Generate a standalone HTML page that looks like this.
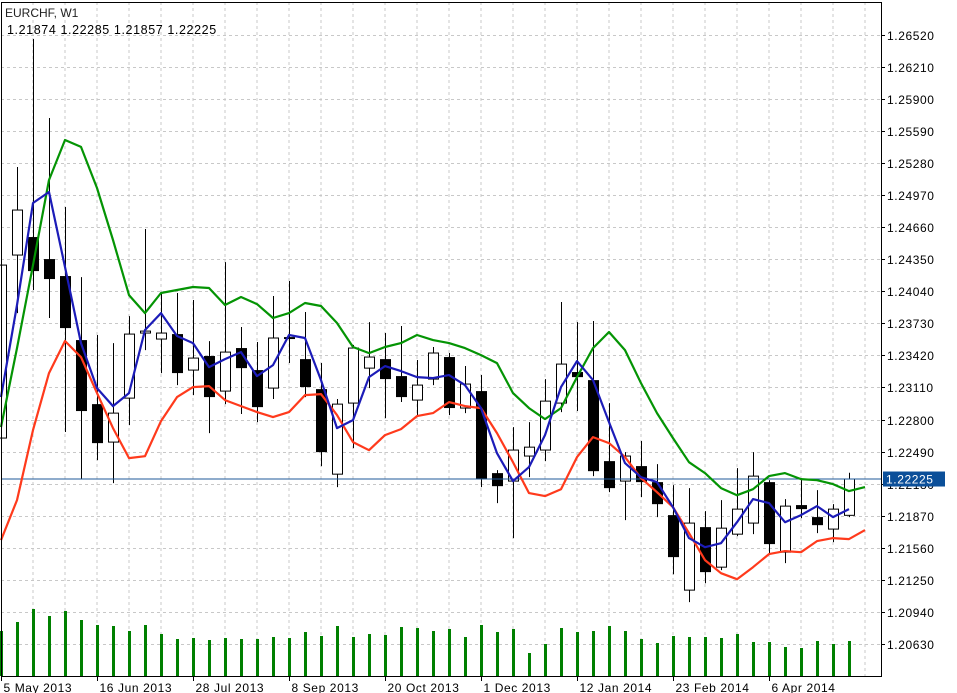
<!DOCTYPE html>
<html><head><meta charset="utf-8"><style>
html,body{margin:0;padding:0;background:#fff;}
svg{display:block;font-family:"Liberation Sans",sans-serif;}
</style></head><body>
<svg id="chart" width="957" height="693" viewBox="0 0 957 693" xmlns="http://www.w3.org/2000/svg">
<rect x="0" y="0" width="957" height="693" fill="#fff"/>
<g id="grid"></g>
<g id="vol"></g>
<g id="candles"></g>
<g id="lines"></g>
<g id="axes"></g>
<text x="5" y="17" font-size="12" fill="#222">EURCHF, W1</text>
<text x="7" y="34" font-size="12.5" fill="#000" letter-spacing="0.6">1.21874 1.22285 1.21857 1.22225</text>
</svg>
<script>
const opens=[1.22621,1.24390,1.24564,1.24351,1.24187,1.23568,1.22949,1.22582,1.23007,1.23636,1.23578,1.23626,1.23278,1.23414,1.23075,1.23491,1.23278,1.23104,1.23597,1.23384,1.23094,1.22272,1.22959,1.23297,1.23384,1.23220,1.22988,1.23191,1.23404,1.22911,1.23075,1.22282,1.22205,1.22447,1.22505,1.22959,1.23259,1.23181,1.22398,1.22205,1.22350,1.22195,1.21876,1.21151,1.21760,1.21373,1.21692,1.21799,1.22195,1.21518,1.21973,1.21857,1.21741,1.21874];
const highs=[1.24361,1.25241,1.26479,1.25715,1.24854,1.24177,1.23617,1.23539,1.23800,1.24642,1.24023,1.24023,1.23955,1.23558,1.24322,1.23694,1.23549,1.23994,1.24139,1.23839,1.23346,1.22998,1.23520,1.23742,1.23636,1.23704,1.23375,1.23501,1.23443,1.23317,1.23230,1.22311,1.22727,1.22775,1.23191,1.23936,1.23742,1.23752,1.22959,1.22485,1.22592,1.22369,1.22166,1.22137,1.21915,1.22021,1.22330,1.22485,1.22214,1.22031,1.22234,1.22118,1.21982,1.22285];
const lows=[1.22553,1.23829,1.24052,1.23781,1.22679,1.22224,1.22408,1.22185,1.22746,1.23471,1.23249,1.23133,1.23036,1.22669,1.22949,1.22853,1.22775,1.22998,1.23346,1.23017,1.22350,1.22147,1.22524,1.23104,1.22814,1.22969,1.22843,1.23133,1.22843,1.22862,1.22147,1.21992,1.21654,1.22243,1.22398,1.22872,1.22882,1.22253,1.22098,1.21828,1.22050,1.21857,1.21305,1.21035,1.21218,1.21344,1.21673,1.21692,1.21508,1.21412,1.21847,1.21702,1.21615,1.21857];
const closes=[1.24293,1.24825,1.24235,1.24158,1.23684,1.22882,1.22572,1.22862,1.23626,1.23655,1.23636,1.23249,1.23394,1.23017,1.23452,1.23297,1.22920,1.23588,1.23578,1.23114,1.22485,1.22949,1.23491,1.23404,1.23191,1.23017,1.23133,1.23443,1.22911,1.23143,1.22224,1.22156,1.22505,1.22533,1.22978,1.23336,1.23210,1.22301,1.22137,1.22447,1.22195,1.21982,1.21470,1.21799,1.21325,1.21750,1.21934,1.22253,1.21596,1.21963,1.21934,1.21779,1.21934,1.22225];
const volumes=[45,54,67,60,65,56,51,50,45,51,42,37,38,36,38,37,37,39,38,44,40,50,39,42,41,49,48,45,47,39,51,44,47,23,32,48,44,45,50,45,37,33,40,39,39,38,42,34,34,29,28,35,32,35];
const greenLine=[1.22727,1.23491,1.24293,1.25115,1.25502,1.25435,1.25038,1.24535,1.24003,1.23829,1.24023,1.24052,1.24081,1.24071,1.23907,1.23984,1.23916,1.23781,1.23829,1.23926,1.23897,1.23733,1.23501,1.23442,1.23501,1.23539,1.23617,1.23568,1.23539,1.23491,1.23423,1.23346,1.23056,1.22911,1.22804,1.22911,1.23210,1.23491,1.23646,1.23471,1.23152,1.22862,1.22621,1.22388,1.22282,1.22137,1.22069,1.22127,1.22253,1.22282,1.22224,1.22214,1.22176,1.22108,1.22147];
const redLine=[1.21634,1.22021,1.22698,1.23249,1.23559,1.23404,1.23056,1.22717,1.22427,1.22446,1.22785,1.23017,1.23114,1.23123,1.22988,1.22930,1.22872,1.22824,1.22872,1.23036,1.23046,1.22843,1.22582,1.22504,1.22650,1.22708,1.22833,1.22862,1.22969,1.22930,1.22911,1.22669,1.22388,1.22089,1.22060,1.22127,1.22437,1.22630,1.22572,1.22437,1.22234,1.22098,1.21953,1.21702,1.21441,1.21315,1.21257,1.21373,1.21499,1.21528,1.21518,1.21625,1.21654,1.21644,1.21731];
const blueLine=[1.23017,1.23907,1.24893,1.24999,1.24274,1.23539,1.23104,1.22930,1.23056,1.23665,1.23829,1.23607,1.23539,1.23307,1.23384,1.23452,1.23220,1.23326,1.23617,1.23588,1.23181,1.22717,1.22795,1.23210,1.23317,1.23268,1.23210,1.23201,1.23230,1.23133,1.22911,1.22475,1.22205,1.22340,1.22650,1.23114,1.23365,1.23181,1.22775,1.22379,1.22243,1.22195,1.21953,1.21654,1.21566,1.21605,1.21808,1.22031,1.21992,1.21808,1.21876,1.21963,1.21857,1.21934];
const priceTicks=[1.26520,1.26210,1.25900,1.25590,1.25280,1.24970,1.24660,1.24350,1.24040,1.23730,1.23420,1.23110,1.22800,1.22490,1.22180,1.21870,1.21560,1.21250,1.20940,1.20630];
const dateLabels=["5 May 2013","16 Jun 2013","28 Jul 2013","8 Sep 2013","20 Oct 2013","1 Dec 2013","12 Jan 2014","23 Feb 2014","6 Apr 2014"];
const dateLabelIdx=[0,6,12,18,24,30,36,42,48];
const lastPrice=1.22225;

const NS="http://www.w3.org/2000/svg";
const PL=1,PR=881,PT=2,PB=676;
function y(p){return 34.7+(1.2652-p)*10345;}
function x(i){return 1+16*i;}
function vy(v){return PB-v;}
function mk(tag,attrs,parent){const e=document.createElementNS(NS,tag);for(const k in attrs)e.setAttribute(k,attrs[k]);parent.appendChild(e);return e;}
const grid=document.getElementById('grid'),vol=document.getElementById('vol'),cg=document.getElementById('candles'),lg=document.getElementById('lines'),ax=document.getElementById('axes');

// grid
for(let gx=33;gx<PR;gx+=32){const l=mk('line',{x1:gx,x2:gx,y1:PT,y2:PB,stroke:'#c8c8c8','stroke-dasharray':'3,3','stroke-width':1},grid);

}
priceTicks.forEach(p=>{const yy=Math.round(y(p))+0.5;const l=mk('line',{x1:PL,x2:PR,y1:yy,y2:yy,stroke:'#c8c8c8','stroke-dasharray':'3,3','stroke-width':1},grid);

});

// volumes
volumes.forEach((v,i)=>{const r=mk('rect',{x:x(i)-1,y:vy(v),width:3,height:v,fill:'#008000'},vol);

});

// current price line
const cl=mk('line',{x1:PL,x2:PR,y1:y(lastPrice),y2:y(lastPrice),stroke:'#1f5a9a','stroke-width':1},lg);



// candles
opens.forEach((o,i)=>{const c=closes[i],h=highs[i],l=lows[i];const cx=x(i)+0.5;
const g=mk('g',{},cg);


mk('line',{x1:cx,x2:cx,y1:y(h),y2:y(l),stroke:'#000','stroke-width':1},g);
const top=y(Math.max(o,c)),bot=y(Math.min(o,c));const hgt=Math.max(1,bot-top);
if(c>=o){mk('rect',{x:cx-5,y:top,width:10,height:hgt,fill:'#fff',stroke:'#000','stroke-width':1},g);}
else{mk('rect',{x:cx-5.5,y:top,width:11,height:hgt,fill:'#000'},g);}
});

// indicator lines
function poly(arr,color,name){const pts=arr.map((v,i)=>x(i)+','+y(v).toFixed(1)).join(' ');
const pl=mk('polyline',{points:pts,fill:'none',stroke:color,'stroke-width':2.2,'stroke-linejoin':'round'},lg);

}
poly(greenLine,'#049404','green-indicator-line');
poly(redLine,'#ff3a1c','red-indicator-line');
poly(blueLine,'#1c1cb8','blue-indicator-line');

// clip area: white over the right axis region
const cover=mk('rect',{x:PR+1,y:0,width:957-PR,height:693,fill:'#fff'},ax);


const cover2=mk('rect',{x:0,y:PB+1,width:957,height:693-PB,fill:'#fff'},ax);


// frame
const fr=mk('rect',{x:PL+0.5,y:PT+0.5,width:PR-PL,height:PB-PT,fill:'none',stroke:'#000','stroke-width':1},ax);



// price ticks
priceTicks.forEach(p=>{const yy=Math.round(y(p))+0.5;
mk('line',{x1:PR,x2:PR+4,y1:yy,y2:yy,stroke:'#000'},ax);
const t=mk('text',{x:PR+6,y:yy+4.5,'font-size':12,fill:'#000','letter-spacing':'0.6'},ax);
t.textContent=p.toFixed(5);

});

// last price label
const ly=y(lastPrice);
const lb=mk('rect',{x:883,y:ly-7.5,width:62,height:15,fill:'#0b4f99'},ax);


const lt=mk('text',{x:886,y:ly+4.5,'font-size':12,fill:'#fff','letter-spacing':'0.6'},ax);
lt.textContent=lastPrice.toFixed(5);



// date ticks
dateLabels.forEach((d,k)=>{const xx=x(dateLabelIdx[k])+0.5;
mk('line',{x1:xx,x2:xx,y1:PB,y2:PB+5,stroke:'#000'},ax);
const t=mk('text',{x:xx+2,y:692,'font-size':12,fill:'#000','letter-spacing':'0.6'},ax);
t.textContent=d;

});
</script>
</body></html>
